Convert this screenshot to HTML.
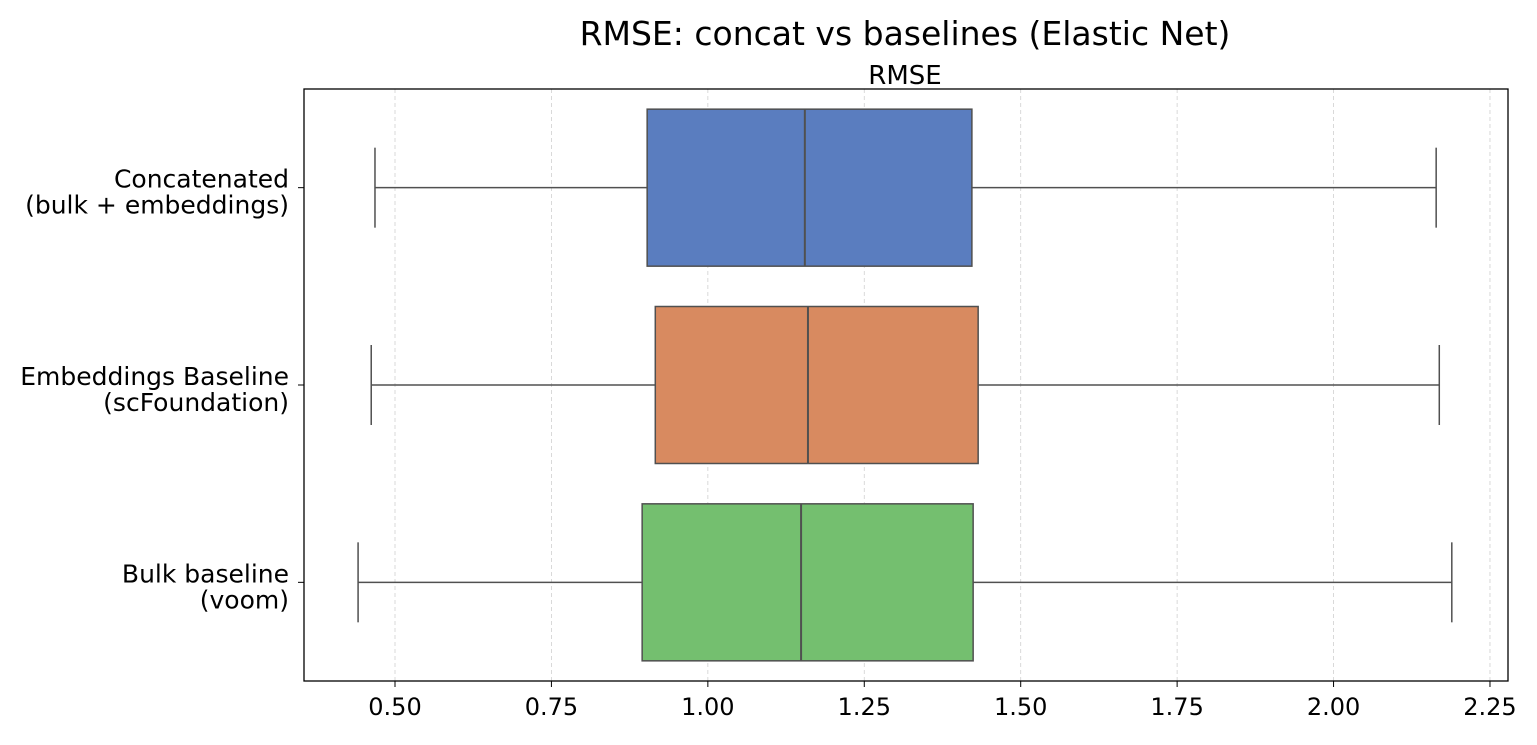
<!DOCTYPE html>
<html><head><meta charset="utf-8"><style>
body{margin:0;background:#fff;font-family:"Liberation Sans","DejaVu Sans",sans-serif;}
svg text{font-family:"DejaVu Sans","Liberation Sans",sans-serif;}
</style></head><body>
<svg id="chart" width="1537" height="740" xmlns="http://www.w3.org/2000/svg">
<text x="905" y="45" font-size="33" text-anchor="middle" fill="#000">RMSE: concat vs baselines (Elastic Net)</text>
<text x="905" y="84" font-size="26" text-anchor="middle" fill="#000">RMSE</text>
<g id="grid"></g><g id="boxes"></g><g id="axes"></g>
</svg>
<script>
const categories=[["Concatenated","(bulk + embeddings)"],["Embeddings Baseline","(scFoundation)"],["Bulk baseline","(voom)"]];
const whiskerLow=[0.468,0.462,0.441];
const q1=[0.903,0.916,0.895];
const medians=[1.155,1.160,1.149];
const q3=[1.422,1.432,1.424];
const whiskerHigh=[2.164,2.169,2.189];
const colors=["#5a7dbf","#d88a60","#74bf6f"];
const xTicks=[0.5,0.75,1.0,1.25,1.5,1.75,2.0,2.25];
const xTickLabels=["0.50","0.75","1.00","1.25","1.50","1.75","2.00","2.25"];
const L=304,R=1508,T=89,B=681;
const X=v=>395+(v-0.5)*625.7;
const Y=i=>T+(B-T)*(i+0.5)/categories.length;
const NS="http://www.w3.org/2000/svg";
function mk(p,t,a){const e=document.createElementNS(NS,t);for(const k in a)e.setAttribute(k,a[k]);p.appendChild(e);return e;}
const grid=document.getElementById('grid'),boxes=document.getElementById('boxes'),axes=document.getElementById('axes');
xTicks.forEach((v,i)=>{
 const g=mk(grid,'line',{x1:X(v),x2:X(v),y1:T,y2:B,stroke:'#d0d0d0','stroke-dasharray':'4,3','stroke-width':0.8});
 
 
 const t=mk(axes,'line',{x1:X(v),x2:X(v),y1:B,y2:B+6,stroke:'#000','stroke-width':1});
 
 
 const l=mk(axes,'text',{x:X(v),y:B+34,'font-size':24,'text-anchor':'middle',fill:'#000'});l.textContent=xTickLabels[i];
 
 
});
const bh=157,ch=80,lc='#505050';
categories.forEach((c,i)=>{
 const y=Y(i);
 const g=mk(boxes,'g',{});
 
 
 mk(g,'line',{x1:X(whiskerLow[i]),x2:X(q1[i]),y1:y,y2:y,stroke:lc,'stroke-width':1.5});
 mk(g,'line',{x1:X(q3[i]),x2:X(whiskerHigh[i]),y1:y,y2:y,stroke:lc,'stroke-width':1.5});
 mk(g,'line',{x1:X(whiskerLow[i]),x2:X(whiskerLow[i]),y1:y-ch/2,y2:y+ch/2,stroke:lc,'stroke-width':1.5});
 mk(g,'line',{x1:X(whiskerHigh[i]),x2:X(whiskerHigh[i]),y1:y-ch/2,y2:y+ch/2,stroke:lc,'stroke-width':1.5});
 mk(g,'rect',{x:X(q1[i]),y:y-bh/2,width:X(q3[i])-X(q1[i]),height:bh,fill:colors[i],stroke:lc,'stroke-width':1.5});
 mk(g,'line',{x1:X(medians[i]),x2:X(medians[i]),y1:y-bh/2,y2:y+bh/2,stroke:lc,'stroke-width':2});
 const t=mk(axes,'line',{x1:L-6,x2:L,y1:y,y2:y,stroke:'#000','stroke-width':1});
 
 
 const l=mk(axes,'text',{'font-size':25,'text-anchor':'end',fill:'#000'});
 
 
 c.forEach((s,j)=>{const ts=mk(l,'tspan',{x:L-15,y:y+j*26});ts.textContent=s;});
});
const f=mk(axes,'rect',{x:L,y:T,width:R-L,height:B-T,fill:'none',stroke:'#000','stroke-width':1.3});


</script>
</body></html>
